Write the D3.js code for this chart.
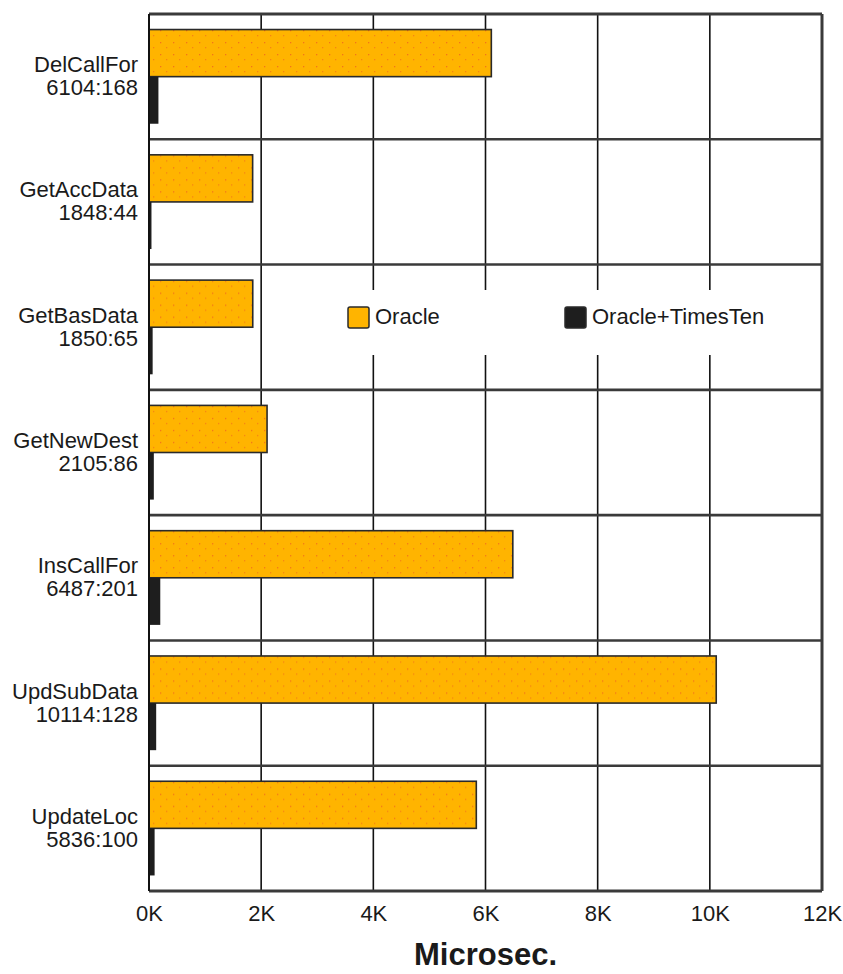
<!DOCTYPE html>
<html>
<head>
<meta charset="utf-8">
<script src="https://cdn.jsdelivr.net/npm/d3@7"></script>
<style>
  html, body { margin: 0; padding: 0; background: #fff; }
  svg { display: block; }
  text { font-family: "Liberation Sans", Arial, sans-serif; fill: #1a1a1a; }
</style>
</head>
<body>
<svg id="chart" width="843" height="974"></svg>
<script>
const categories = ["DelCallFor", "GetAccData", "GetBasData", "GetNewDest", "InsCallFor", "UpdSubData", "UpdateLoc"];
const oracleValues = [6104, 1848, 1850, 2105, 6487, 10114, 5836];
const timesTenValues = [168, 44, 65, 86, 201, 128, 100];
const seriesNames = ["Oracle", "Oracle+TimesTen"];
const xTicks = [0, 2000, 4000, 6000, 8000, 10000, 12000];
const xTitle = "Microsec.";

const colors = { "Oracle": "#ffb400", "Oracle+TimesTen": "#1e1e1e" };

const W = 843, H = 974;
const margin = { left: 149, right: 21, top: 14, bottom: 83 };
const svg = d3.select("#chart");

const x = d3.scaleLinear().domain([0, 12000]).range([margin.left, W - margin.right]);
const y = d3.scaleBand().domain(categories).range([margin.top, H - margin.bottom]).padding(0);
const ySub = d3.scaleBand().domain(seriesNames).range([0, y.bandwidth()]).paddingInner(0).paddingOuter(0.33);

// dotted texture for orange bars
const defs = svg.append("defs");
const pat = defs.append("pattern").attr("id", "dots").attr("patternUnits", "userSpaceOnUse")
  .attr("width", 13).attr("height", 12);
pat.append("rect").attr("width", 13).attr("height", 12).attr("fill", colors["Oracle"]);
pat.append("rect").attr("x", 4).attr("y", 4).attr("width", 1.3).attr("height", 1.3).attr("fill", "#f0641e").attr("opacity", 0.8);
pat.append("rect").attr("x", 10).attr("y", 9).attr("width", 1.3).attr("height", 1.3).attr("fill", "#f0641e").attr("opacity", 0.6);

// vertical grid lines
svg.append("g").selectAll("line").data(xTicks.slice(1, -1)).join("line")
  .attr("x1", d => x(d)).attr("x2", d => x(d))
  .attr("y1", margin.top).attr("y2", H - margin.bottom)
  .attr("stroke", "#111").attr("stroke-width", 1.6);

// horizontal band separators
svg.append("g").selectAll("line").data(categories.slice(1)).join("line")
  .attr("x1", margin.left).attr("x2", W - margin.right)
  .attr("y1", d => y(d)).attr("y2", d => y(d))
  .attr("stroke", "#3a3a3a").attr("stroke-width", 2.6);

// bars
const rows = categories.map((c, i) => ({ cat: c, vals: [
  { s: "Oracle", v: oracleValues[i] },
  { s: "Oracle+TimesTen", v: timesTenValues[i] }
]}));

const g = svg.append("g").selectAll("g").data(rows).join("g")
  .attr("transform", d => `translate(0,${y(d.cat)})`);
g.selectAll("rect").data(d => d.vals).join("rect")
  .attr("x", x(0))
  .attr("y", d => ySub(d.s))
  .attr("width", d => x(d.v) - x(0))
  .attr("height", ySub.bandwidth())
  .attr("fill", d => d.s === "Oracle" ? "url(#dots)" : colors[d.s])
  .attr("stroke", d => d.s === "Oracle" ? "#2a2a2a" : "none")
  .attr("stroke-width", 1.6);

// plot border
svg.append("line").attr("x1", margin.left).attr("x2", W - margin.right)
  .attr("y1", margin.top).attr("y2", margin.top).attr("stroke", "#3a3a3a").attr("stroke-width", 3);
svg.append("line").attr("x1", margin.left).attr("x2", W - margin.right)
  .attr("y1", H - margin.bottom).attr("y2", H - margin.bottom).attr("stroke", "#3a3a3a").attr("stroke-width", 3);
svg.append("line").attr("x1", margin.left).attr("x2", margin.left)
  .attr("y1", margin.top).attr("y2", H - margin.bottom).attr("stroke", "#111").attr("stroke-width", 2);
svg.append("line").attr("x1", W - margin.right).attr("x2", W - margin.right)
  .attr("y1", margin.top).attr("y2", H - margin.bottom).attr("stroke", "#3a3a3a").attr("stroke-width", 3);

// category labels (two lines)
const lab = svg.append("g").selectAll("g").data(rows).join("g")
  .attr("transform", d => `translate(138,${y(d.cat) + y.bandwidth() / 2})`);
lab.append("text").attr("text-anchor", "end").attr("y", -4.5)
  .style("font-size", "22px").text(d => d.cat);
lab.append("text").attr("text-anchor", "end").attr("y", 18.5)
  .style("font-size", "22px").text(d => `${d.vals[0].v}:${d.vals[1].v}`);

// x axis
const ax = svg.append("g").attr("transform", `translate(0,${H - margin.bottom})`)
  .call(d3.axisBottom(x).tickValues(xTicks).tickSize(0).tickPadding(14)
    .tickFormat(d => (d / 1000) + "K"));
ax.select(".domain").remove();
ax.selectAll("text").style("font-size", "22px").attr("fill", "#1a1a1a")
  .style("font-family", "'Liberation Sans', Arial, sans-serif");

svg.append("text").attr("x", (x(0) + x(12000)) / 2).attr("y", 965)
  .attr("text-anchor", "middle").style("font-size", "31px").style("font-weight", "bold")
  .text(xTitle);

// legend
const leg = svg.append("g");
leg.append("rect").attr("x", 340).attr("y", 290).attr("width", 452).attr("height", 65).attr("fill", "#fff");
const legX = [348, 565];
const li = leg.selectAll("g").data(seriesNames).join("g")
  .attr("transform", (d, i) => `translate(${legX[i]},307)`);
li.append("rect").attr("width", 21).attr("height", 21).attr("rx", 2)
  .attr("fill", d => colors[d]).attr("stroke", "#2a2a2a").attr("stroke-width", 1.5);
li.append("text").attr("x", 27).attr("y", 17).style("font-size", "22px").text(d => d);
</script>
</body>
</html>
